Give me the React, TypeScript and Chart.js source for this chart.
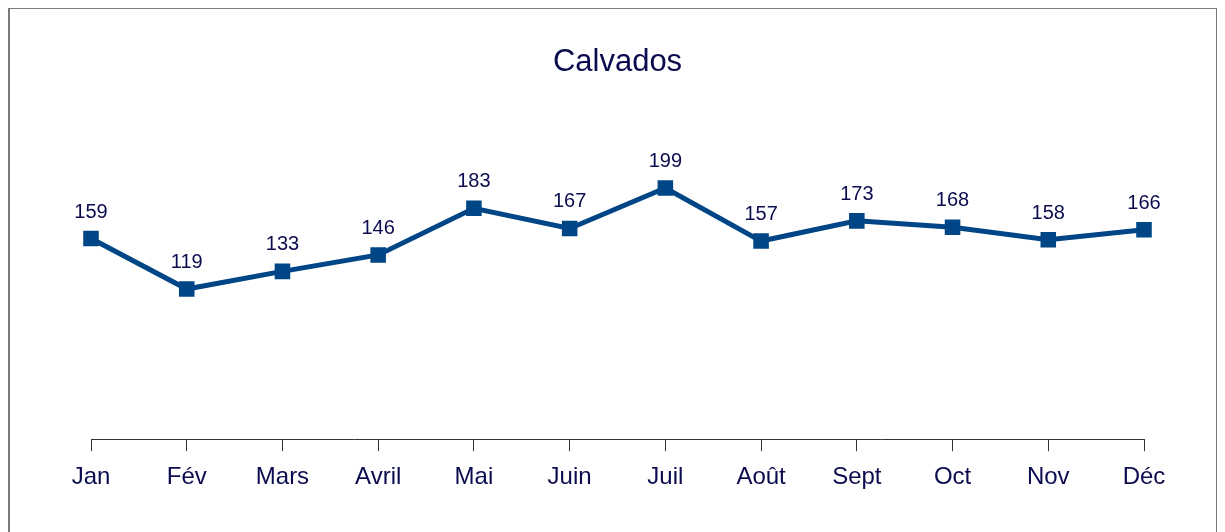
import React, { useEffect, useRef } from "react";
import { Chart, registerables } from "chart.js";

Chart.register(...registerables);

const months = ["Jan", "Fév", "Mars", "Avril", "Mai", "Juin", "Juil", "Août", "Sept", "Oct", "Nov", "Déc"];
const values = [159, 119, 133, 146, 183, 167, 199, 157, 173, 168, 158, 166];
const chartTitle = "Calvados";

const FONT = "'Liberation Sans', Arial, sans-serif";
const TEXT = "#0b0b4f";
const LINE = "#004586";

const labelPlugin = {
  id: "pointLabels",
  afterDatasetsDraw(chart: any) {
    const ctx = chart.ctx;
    const meta = chart.getDatasetMeta(0);
    ctx.save();
    ctx.font = `20px ${FONT}`;
    ctx.fillStyle = TEXT;
    ctx.textAlign = "center";
    ctx.textBaseline = "alphabetic";
    meta.data.forEach((pt: any, i: number) => {
      ctx.fillText(String(values[i]), pt.x, pt.y - 21);
    });
    ctx.restore();
  },
};

export default function App() {
  const ref = useRef<HTMLCanvasElement | null>(null);
  useEffect(() => {
    if (!ref.current) return;
    const chart = new Chart(ref.current, {
      type: "line",
      data: {
        labels: months,
        datasets: [
          {
            data: values,
            borderColor: LINE,
            backgroundColor: LINE,
            borderWidth: 5,
            pointStyle: "rect",
            pointRadius: 11,
            pointBorderWidth: 0,
            pointBackgroundColor: LINE,
            tension: 0,
          },
        ],
      },
      options: {
        responsive: false,
        animation: false,
        layout: { padding: { left: 81, right: 72, top: 0, bottom: 27 } },
        plugins: {
          legend: { display: false },
          tooltip: { enabled: false },
          title: {
            display: true,
            text: chartTitle,
            color: TEXT,
            font: { family: FONT, size: 31, weight: "normal" },
            padding: { top: 35, bottom: 42.5 },
          },
        },
        scales: {
          x: {
            offset: false,
            grid: { drawOnChartArea: false, color: "#333", tickLength: 12, lineWidth: 1 },
            border: { display: true, color: "#333", width: 1 },
            ticks: { color: TEXT, font: { family: FONT, size: 24 }, padding: 12, maxRotation: 0, autoSkip: false },
          },
          y: {
            display: false,
            min: 0,
            max: 250,
          },
        },
      },
      plugins: [labelPlugin],
    });
    return () => chart.destroy();
  }, []);
  return (
    <div style={{ width: 1210, height: 540, border: "2px solid #7a7a7a", boxSizing: "border-box", background: "#fff", marginTop: -1 }}>
      <canvas ref={ref} width={1206} height={522} style={{ display: "block" }} />
    </div>
  );
}
